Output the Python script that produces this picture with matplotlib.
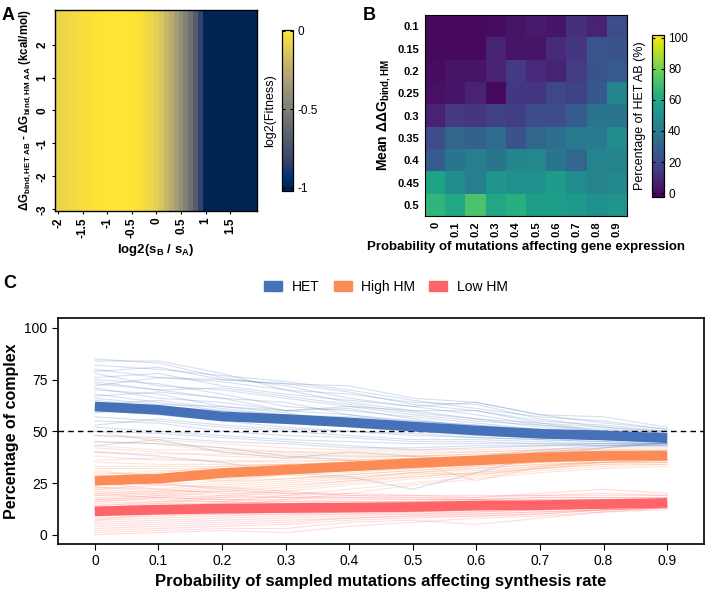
import numpy as np
import matplotlib
matplotlib.use("Agg")
import matplotlib.pyplot as plt
from matplotlib.patches import Patch

plt.rcParams['font.family'] = ['Liberation Sans', 'DejaVu Sans']
plt.rcParams['mathtext.fontset'] = 'custom'
plt.rcParams['mathtext.rm'] = 'Liberation Sans:bold'
plt.rcParams['mathtext.it'] = 'Liberation Sans:bold'
plt.rcParams['mathtext.bf'] = 'Liberation Sans:bold'
plt.rcParams['mathtext.default'] = 'regular'

# ---- panel A: log2 fitness vs log2(sB/sA) (same for every dG row) ----
ratio_x = [-2.0, -1.9, -1.8, -1.7, -1.6, -1.5, -1.4, -1.3, -1.2, -1.1, -1.0,
           -0.9, -0.8, -0.7, -0.6, -0.5, -0.4, -0.3, -0.2, -0.1, 0.0,
           0.1, 0.2, 0.3, 0.4, 0.5, 0.6, 0.7, 0.8, 0.9, 1.0,
           1.1, 1.2, 1.3, 1.4, 1.5, 1.6, 1.7, 1.8, 1.9, 2.0]
fitness = [-0.08, -0.07, -0.06, -0.05, -0.04, -0.035, -0.03, -0.02, -0.015, -0.01, -0.005,
           0.0, 0.0, 0.0, -0.005, -0.01, -0.02, -0.03, -0.05, -0.07, -0.1,
           -0.14, -0.2, -0.26, -0.33, -0.4, -0.48, -0.57, -0.68, -0.83, -1.0,
           -1.0, -1.0, -1.0, -1.0, -1.0, -1.0, -1.0, -1.0, -1.0, -1.0]
ddg_y = [round(-3 + 0.1 * i, 1) for i in range(61)]

# ---- panel B: % HET AB ----
prob_expr = ['0', '0.1', '0.2', '0.3', '0.4', '0.5', '0.6', '0.7', '0.8', '0.9']
mean_ddg = ['0.1', '0.15', '0.2', '0.25', '0.3', '0.35', '0.4', '0.45', '0.5']
het_pct = [
    [0, 0, 0, 1, 3, 5, 4, 12, 8, 22],
    [0, 0, 0, 8, 3, 3, 10, 14, 25, 24],
    [1, 3, 3, 8, 15, 10, 8, 16, 24, 28],
    [2, 4, 8, 0, 14, 14, 20, 18, 26, 45],
    [8, 15, 14, 18, 17, 22, 22, 28, 38, 38],
    [22, 32, 30, 34, 24, 32, 35, 40, 40, 48],
    [28, 38, 42, 38, 45, 46, 38, 32, 44, 44],
    [58, 48, 42, 52, 50, 50, 55, 48, 44, 46],
    [66, 60, 72, 60, 63, 56, 56, 54, 50, 52],
]

# ---- panel C: percentage of complex ----
prob_synth = [0, 0.1, 0.2, 0.3, 0.4, 0.5, 0.6, 0.7, 0.8, 0.9]
het_mean = [62.0, 60.4, 57.2, 55.9, 54.3, 52.3, 50.4, 48.8, 48.0, 46.7]
high_mean = [26.1, 27.1, 29.8, 31.4, 33.0, 34.6, 35.9, 37.4, 38.2, 38.3]
low_mean = [11.3, 12.1, 12.6, 12.9, 13.1, 13.4, 14.1, 14.3, 14.8, 15.4]

het_runs = [
    [85, 83, 76, 72, 66, 62, 58, 53, 50, 49],
    [84, 84, 78, 70, 68, 64, 63, 56, 52, 50],
    [82, 80, 77, 74, 70, 65, 61, 57, 55, 51],
    [80, 76, 74, 70, 64, 60, 56, 52, 50, 48],
    [79, 81, 75, 73, 69, 63, 60, 55, 53, 50],
    [78, 72, 70, 66, 62, 58, 55, 53, 51, 49],
    [76, 78, 72, 68, 65, 62, 64, 58, 54, 51],
    [75, 73, 68, 62, 60, 57, 54, 51, 49, 47],
    [74, 70, 71, 67, 63, 59, 56, 54, 52, 49],
    [73, 70, 66, 64, 58, 55, 53, 50, 50, 48],
    [72, 76, 75, 73, 72, 66, 64, 58, 57, 52],
    [71, 66, 64, 60, 61, 56, 52, 49, 48, 47],
    [70, 68, 62, 60, 58, 54, 52, 50, 48, 47],
    [68, 64, 60, 58, 56, 53, 50, 48, 47, 46],
    [67, 69, 66, 60, 62, 60, 60, 54, 50, 50],
    [66, 63, 62, 59, 54, 51, 49, 48, 46, 45],
    [65, 62, 60, 56, 55, 52, 49, 47, 46, 45],
    [63, 65, 61, 58, 57, 55, 53, 51, 49, 47],
    [62, 60, 57, 55, 52, 50, 48, 47, 46, 45],
    [60, 58, 55, 52, 50, 48, 47, 46, 45, 44],
    [59, 61, 58, 57, 53, 54, 50, 49, 47, 46],
    [57, 55, 52, 50, 48, 46, 46, 45, 44, 44],
    [55, 54, 50, 48, 47, 45, 45, 44, 44, 43],
    [53, 56, 53, 51, 50, 49, 47, 46, 45, 44],
    [52, 50, 48, 46, 45, 44, 44, 44, 43, 43],
    [50, 49, 47, 45, 43, 41, 42, 43, 44, 44],
    [48, 47, 45, 44, 42, 42, 43, 43, 43, 43],
    [45, 44, 42, 38, 36, 34, 38, 41, 43, 44],
    [40, 38, 35, 30, 28, 22, 30, 38, 42, 44],
    [43, 46, 40, 37, 40, 38, 36, 40, 42, 45],
]
high_runs = [
    [50, 45, 42, 40, 40, 40, 40, 41, 42, 42],
    [48, 46, 44, 42, 41, 41, 41, 42, 41, 41],
    [45, 44, 40, 39, 38, 38, 39, 40, 41, 41],
    [43, 41, 41, 40, 39, 39, 40, 41, 40, 40],
    [42, 40, 38, 37, 37, 38, 38, 40, 40, 40],
    [40, 39, 39, 38, 38, 38, 39, 39, 40, 39],
    [38, 36, 36, 35, 36, 37, 37, 39, 40, 39],
    [36, 37, 35, 36, 36, 37, 38, 38, 39, 39],
    [35, 34, 34, 34, 35, 35, 37, 38, 38, 39],
    [33, 33, 33, 34, 35, 36, 36, 38, 38, 38],
    [32, 32, 32, 33, 33, 35, 36, 37, 38, 38],
    [30, 29, 30, 31, 32, 34, 35, 37, 37, 38],
    [29, 31, 31, 32, 33, 34, 36, 37, 38, 38],
    [27, 28, 30, 30, 31, 33, 35, 36, 37, 37],
    [26, 25, 28, 30, 31, 32, 34, 36, 37, 37],
    [24, 26, 27, 29, 30, 32, 34, 36, 36, 37],
    [23, 22, 25, 27, 29, 31, 33, 35, 36, 36],
    [22, 24, 26, 27, 29, 31, 33, 35, 36, 36],
    [20, 21, 24, 26, 28, 30, 32, 34, 35, 36],
    [19, 20, 23, 25, 27, 30, 32, 34, 35, 36],
    [17, 19, 22, 24, 26, 29, 31, 33, 35, 35],
    [16, 18, 21, 23, 26, 28, 30, 33, 35, 35],
    [14, 16, 19, 22, 25, 28, 30, 32, 34, 35],
    [13, 15, 18, 21, 24, 27, 29, 32, 34, 34],
    [10, 12, 16, 19, 22, 25, 28, 31, 33, 34],
    [7, 10, 14, 17, 20, 24, 27, 30, 32, 33],
    [28, 30, 33, 34, 33, 35, 26, 33, 36, 38],
    [31, 28, 26, 29, 27, 30, 29, 32, 35, 36],
]
low_runs = [
    [28, 25, 22, 20, 20, 19, 18, 20, 22, 20],
    [26, 24, 23, 21, 19, 19, 19, 19, 19, 19],
    [25, 22, 20, 19, 18, 18, 18, 19, 20, 19],
    [23, 21, 21, 20, 19, 18, 17, 18, 18, 18],
    [22, 20, 19, 18, 18, 17, 17, 18, 18, 18],
    [21, 19, 18, 18, 17, 17, 17, 17, 17, 17],
    [20, 18, 17, 17, 16, 16, 16, 17, 17, 17],
    [19, 18, 17, 16, 16, 16, 16, 16, 17, 17],
    [18, 17, 16, 15, 15, 15, 15, 16, 16, 16],
    [17, 16, 16, 15, 15, 15, 15, 15, 16, 16],
    [16, 15, 15, 14, 14, 14, 15, 15, 15, 16],
    [15, 14, 14, 14, 14, 14, 14, 15, 15, 15],
    [14, 13, 13, 13, 13, 14, 14, 14, 15, 15],
    [13, 13, 13, 13, 13, 13, 14, 14, 14, 15],
    [12, 12, 12, 12, 12, 13, 13, 14, 14, 15],
    [11, 11, 12, 12, 12, 13, 13, 13, 14, 14],
    [10, 10, 11, 11, 12, 12, 13, 13, 14, 14],
    [9, 10, 10, 11, 11, 12, 12, 13, 13, 14],
    [8, 9, 10, 10, 11, 11, 12, 12, 13, 14],
    [7, 8, 9, 10, 10, 11, 11, 12, 13, 14],
    [6, 7, 8, 9, 10, 10, 11, 12, 13, 14],
    [5, 6, 7, 8, 9, 10, 10, 11, 12, 13],
    [4, 5, 6, 7, 8, 9, 10, 11, 12, 13],
    [3, 4, 5, 6, 8, 9, 9, 10, 12, 13],
    [2, 3, 4, 5, 7, 8, 9, 10, 12, 13],
    [0, 1, 2, 1, 4, 6, 8, 9, 11, 12],
    [1, 2, 3, 3, 6, 7, 5, 8, 11, 13],
    [12, 14, 15, 16, 15, 16, 17, 15, 16, 16],
]

het_col = '#4471B7'
high_col = '#FC8B55'
low_col = '#FF6468'

W, H = 705, 591
fig = plt.figure(figsize=(W / 100, H / 100), dpi=100)


def box(l, t, r, b):
    return [l / W, 1 - b / H, (r - l) / W, (b - t) / H]


# ================= panel A =================
axA = fig.add_axes(box(55, 10, 257, 211))
z = np.tile(np.array(fitness), (len(ddg_y), 1))
meshA = axA.pcolormesh(ratio_x, ddg_y, z, cmap='cividis', vmin=-1.02, vmax=0.005,
                       shading='nearest')
axA.set_xlim(-2.07, 2.05)
axA.set_ylim(-3.05, 3.05)
axA.set_xticks([-2, -1.5, -1, -0.5, 0, 0.5, 1, 1.5])
axA.set_xticklabels(['-2', '-1.5', '-1', '-0.5', '0', '0.5', '1', '1.5'],
                    rotation=90, fontweight='bold', fontsize=8.5)
axA.set_yticks([-3, -2, -1, 0, 1, 2])
axA.set_yticklabels(['-3', '-2', '-1', '0', '1', '2'], rotation=90, va='center',
                    fontweight='bold', fontsize=8.5)
axA.tick_params(length=2.5, width=0.8, pad=2)
axA.set_xlabel('log2(s$_{B}$ / s$_{A}$)', fontweight='bold', fontsize=9.5, labelpad=3)
axA.set_ylabel('ΔG$_{bind,HET\\ AB}$ - ΔG$_{bind,HM\\ AA}$ (kcal/mol)',
               fontweight='bold', fontsize=8.3, labelpad=2)
for s in axA.spines.values():
    s.set_linewidth(1.0)

caxA = fig.add_axes(box(282, 30, 293, 191))
cbA = fig.colorbar(meshA, cax=caxA)
cbA.set_ticks([0, -0.5, -1])
cbA.set_ticklabels(['0', '-0.5', '-1'])
caxA.tick_params(direction='in', left=True, right=True, length=2.5, width=0.8,
                 labelsize=8.5, pad=3)
caxA.yaxis.set_label_position('left')
cbA.set_label('log2(Fitness)', fontsize=9, labelpad=4)
cbA.outline.set_linewidth(0.9)

# ================= panel B =================
axB = fig.add_axes(box(425, 15, 627, 216))
imB = axB.imshow(np.array(het_pct), cmap='viridis', vmin=-2.5, vmax=101.7,
                 aspect='auto', interpolation='nearest')
axB.set_xticks(range(len(prob_expr)))
axB.set_xticklabels(prob_expr, rotation=90, fontweight='bold', fontsize=8)
axB.set_yticks(range(len(mean_ddg)))
axB.set_yticklabels(mean_ddg, fontweight='bold', fontsize=8)
axB.tick_params(length=0, pad=4)
axB.set_xlabel('Probability of mutations affecting gene expression',
               fontweight='bold', fontsize=9.5, labelpad=3)
axB.set_ylabel('Mean ΔΔG$_{bind,HM}$', fontweight='bold', fontsize=10, labelpad=3)

caxB = fig.add_axes(box(652, 35, 664, 197))
cbB = fig.colorbar(imB, cax=caxB)
cbB.set_ticks([0, 20, 40, 60, 80, 100])
caxB.tick_params(direction='in', left=True, right=True, length=2.5, width=0.8,
                 labelsize=8.5, pad=3)
caxB.yaxis.set_label_position('left')
cbB.set_label('Percentage of HET AB (%)', fontsize=9, labelpad=4)
cbB.outline.set_linewidth(0.9)

# ================= panel C =================
axC = fig.add_axes(box(58, 318, 704, 544))
for run in het_runs:
    axC.plot(prob_synth, run, color=het_col, alpha=0.22, lw=0.8)
for run in high_runs:
    axC.plot(prob_synth, run, color=high_col, alpha=0.22, lw=0.8)
for run in low_runs:
    axC.plot(prob_synth, run, color=low_col, alpha=0.22, lw=0.8)
axC.axhline(50, color='black', lw=1.0, ls=(0, (4, 3)))
axC.plot(prob_synth, het_mean, color=het_col, lw=7, solid_capstyle='butt')
axC.plot(prob_synth, high_mean, color=high_col, lw=7, solid_capstyle='butt')
axC.plot(prob_synth, low_mean, color=low_col, lw=7, solid_capstyle='butt')
axC.set_xlim(-0.058, 0.958)
axC.set_ylim(-4.5, 104.8)
axC.set_xticks(prob_synth)
axC.set_xticklabels(['0', '0.1', '0.2', '0.3', '0.4', '0.5', '0.6', '0.7', '0.8', '0.9'])
axC.set_yticks([0, 25, 50, 75, 100])
axC.tick_params(length=4, width=0.8, labelsize=10, colors='black')
axC.set_xlabel('Probability of sampled mutations affecting synthesis rate',
               fontweight='bold', fontsize=12, labelpad=4)
axC.set_ylabel('Percentage of complex', fontweight='bold', fontsize=11.5, labelpad=4)
for s in axC.spines.values():
    s.set_linewidth(1.2)

handles = [Patch(color=het_col, label='HET'),
           Patch(color=high_col, label='High HM'),
           Patch(color=low_col, label='Low HM')]
fig.legend(handles=handles, loc='center', bbox_to_anchor=(386 / W, 1 - 287 / H),
           ncol=3, frameon=False, fontsize=10, handlelength=1.3, handleheight=0.75,
           columnspacing=1.0, handletextpad=0.7)

# panel letters
fig.text(2 / W, 1 - 15 / H, 'A', fontsize=13, fontweight='bold', va='center')
fig.text(363 / W, 1 - 15 / H, 'B', fontsize=13, fontweight='bold', va='center')
fig.text(3 / W, 1 - 283 / H, 'C', fontsize=13, fontweight='bold', va='center')

fig.savefig('out.png', dpi=100)
